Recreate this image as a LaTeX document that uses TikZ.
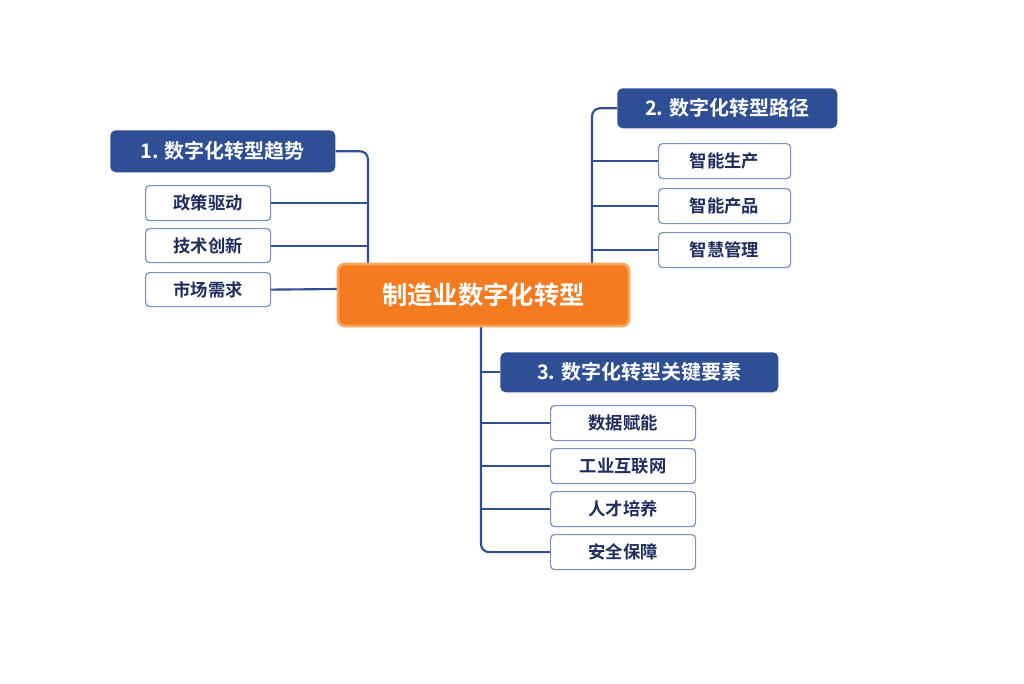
\documentclass[tikz,border=0pt]{standalone}
\usepackage{fontspec}
\setmainfont{Noto Sans CJK SC}
\newfontfamily\cjkb{Noto Sans CJK SC Bold}
\begin{document}
\begin{tikzpicture}[x=0.75pt,y=-0.75pt,
  hd/.style={draw=none,fill=hblue,rounded corners=4pt,text=white,font=\cjkb\fontsize{15}{18}\selectfont,anchor=north west,inner sep=0pt},
  ch/.style={draw=cborder,fill=white,rounded corners=3pt,line width=0.9pt,text=ctext,font=\cjkb\fontsize{13}{16}\selectfont,anchor=north west,inner sep=0pt},
  ln/.style={draw=hblue,line width=1.6pt,rounded corners=6pt}]
\definecolor{hblue}{HTML}{2F4F95}
\definecolor{cborder}{HTML}{7890C0}
\definecolor{ctext}{HTML}{1F2D5C}
\definecolor{org}{HTML}{F47B20}
\definecolor{orgb}{HTML}{F9A860}
\useasboundingbox (0,0) rectangle (1024,683);
\fill[white] (0,0) rectangle (1024,683);
\newcommand{\bx}[7]{\node[#1,minimum width=#4*0.75pt,minimum height=#5*0.75pt] (#6) at (#2,#3) {#7};}
% connectors first
\coordinate (j1) at (368,263);
\coordinate (j2) at (592,263);
\coordinate (j3) at (481,327);
\bx{ch}{145}{185}{125}{35}{c11}{政策驱动}
\bx{ch}{145}{228}{125}{34}{c12}{技术创新}
\bx{ch}{145}{272}{125}{34}{c13}{市场需求}
\bx{ch}{658}{143}{132}{35}{c21}{智能生产}
\bx{ch}{658}{188}{132}{35}{c22}{智能产品}
\bx{ch}{658}{232}{132}{35}{c23}{智慧管理}
\bx{ch}{550}{405}{145}{35}{c31}{数据赋能}
\bx{ch}{550}{448}{145}{35}{c32}{工业互联网}
\bx{ch}{550}{491}{145}{35}{c33}{人才培养}
\bx{ch}{550}{534}{145}{35}{c34}{安全保障}
\bx{hd}{110}{130}{225}{42}{h1}{1. 数字化转型趋势}
\bx{hd}{617}{88}{220}{40}{h2}{2. 数字化转型路径}
\bx{hd}{500}{352}{278}{40}{h3}{3. 数字化转型关键要素}
\begin{scope}[on background layer/.try]
\end{scope}
\draw[ln] (h1.east) -| (j1);
\draw[ln] (c11.east) -- (c11.east -| j1);
\draw[ln] (c12.east) -- (c12.east -| j1);
\draw[ln] (c13.east) -- (337,289);
\draw[ln] (h2.west) -| (j2);
\draw[ln] (c21.west) -- (c21.west -| j2);
\draw[ln] (c22.west) -- (c22.west -| j2);
\draw[ln] (c23.west) -- (c23.west -| j2);
\draw[ln] (j3) |- (c34.west);
\draw[ln] (h3.west -| j3) -- (h3.west);
\draw[ln] (c31.west) -- (c31.west -| j3);
\draw[ln] (c32.west) -- (c32.west -| j3);
\draw[ln] (c33.west) -- (c33.west -| j3);
\node[fill=org,draw=orgb,line width=2pt,rounded corners=5pt,text=white,font=\cjkb\fontsize{19}{22}\selectfont,minimum width=291*0.75pt,minimum height=62*0.75pt,inner sep=0pt] (ctr) at (483.5,295) {制造业数字化转型};
\end{tikzpicture}
\end{document}
